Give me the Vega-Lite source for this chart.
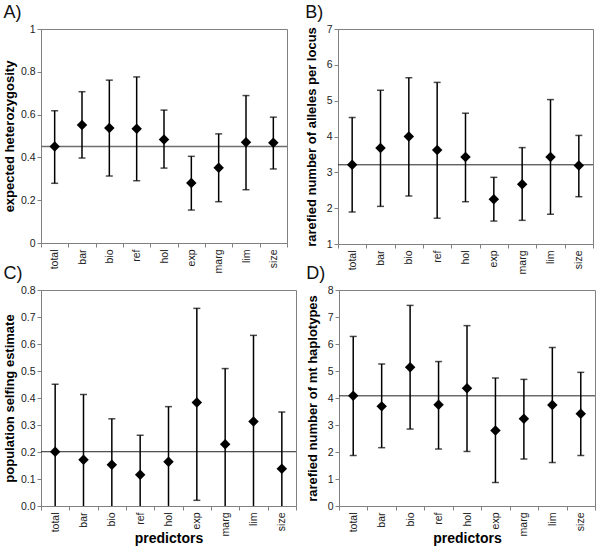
{
  "$schema": "https://vega.github.io/schema/vega-lite/v6.json",
  "padding": {"left": 2, "top": 3, "right": 2, "bottom": 0},
  "background": "white",
  "config": {
    "font": "Liberation Sans",
    "view": {"stroke": "#808080", "strokeWidth": 1},
    "axis": {
      "domainColor": "#808080", "tickColor": "#808080", "labelColor": "#222222",
      "labelFont": "Liberation Sans", "labelFontSize": 10.5, "tickSize": 4, "labelPadding": 2,
      "titleFont": "Liberation Sans", "titleFontWeight": "bold", "titleColor": "#000000", "titleFontSize": 13,
      "grid": false, "labelOverlap": false
    },
    "title": {"font": "Liberation Sans", "fontSize": 18, "fontWeight": "normal", "color": "#111111", "anchor": "start", "frame": "bounds", "offset": 2}
  },
  "datasets": {
    "A": [
      {"pred": "total", "mean": 0.451, "lo": 0.279, "hi": 0.618},
      {"pred": "bar", "mean": 0.551, "lo": 0.397, "hi": 0.707},
      {"pred": "bio", "mean": 0.537, "lo": 0.313, "hi": 0.761},
      {"pred": "ref", "mean": 0.534, "lo": 0.291, "hi": 0.776},
      {"pred": "hol", "mean": 0.484, "lo": 0.350, "hi": 0.621},
      {"pred": "exp", "mean": 0.280, "lo": 0.154, "hi": 0.405},
      {"pred": "marg", "mean": 0.352, "lo": 0.193, "hi": 0.510},
      {"pred": "lim", "mean": 0.471, "lo": 0.249, "hi": 0.689},
      {"pred": "size", "mean": 0.468, "lo": 0.346, "hi": 0.588}
    ],
    "B": [
      {"pred": "total", "mean": 3.21, "lo": 1.89, "hi": 4.53},
      {"pred": "bar", "mean": 3.68, "lo": 2.05, "hi": 5.29},
      {"pred": "bio", "mean": 4.00, "lo": 2.34, "hi": 5.64},
      {"pred": "ref", "mean": 3.62, "lo": 1.72, "hi": 5.51},
      {"pred": "hol", "mean": 3.43, "lo": 2.18, "hi": 4.65},
      {"pred": "exp", "mean": 2.25, "lo": 1.64, "hi": 2.86},
      {"pred": "marg", "mean": 2.67, "lo": 1.66, "hi": 3.69},
      {"pred": "lim", "mean": 3.43, "lo": 1.83, "hi": 5.03},
      {"pred": "size", "mean": 3.19, "lo": 2.32, "hi": 4.03}
    ],
    "C": [
      {"pred": "total", "mean": 0.201, "lo": 0, "hi": 0.451},
      {"pred": "bar", "mean": 0.171, "lo": 0, "hi": 0.413},
      {"pred": "bio", "mean": 0.153, "lo": 0, "hi": 0.323},
      {"pred": "ref", "mean": 0.116, "lo": 0, "hi": 0.262},
      {"pred": "hol", "mean": 0.164, "lo": 0, "hi": 0.368},
      {"pred": "exp", "mean": 0.383, "lo": 0.021, "hi": 0.732},
      {"pred": "marg", "mean": 0.229, "lo": 0, "hi": 0.509},
      {"pred": "lim", "mean": 0.313, "lo": 0, "hi": 0.632},
      {"pred": "size", "mean": 0.138, "lo": 0, "hi": 0.348}
    ],
    "D": [
      {"pred": "total", "mean": 4.08, "lo": 1.87, "hi": 6.28},
      {"pred": "bar", "mean": 3.69, "lo": 2.16, "hi": 5.26},
      {"pred": "bio", "mean": 5.14, "lo": 2.85, "hi": 7.43},
      {"pred": "ref", "mean": 3.75, "lo": 2.11, "hi": 5.35},
      {"pred": "hol", "mean": 4.36, "lo": 2.02, "hi": 6.68},
      {"pred": "exp", "mean": 2.80, "lo": 0.87, "hi": 4.74},
      {"pred": "marg", "mean": 3.23, "lo": 1.74, "hi": 4.69},
      {"pred": "lim", "mean": 3.74, "lo": 1.61, "hi": 5.87},
      {"pred": "size", "mean": 3.42, "lo": 1.87, "hi": 4.95}
    ]
  },
  "spacing": -11,
  "vconcat": [
    {
      "spacing": 15,
      "hconcat": [
        {
          "width": 246, "height": 214,
          "title": {"text": "A)"},
          "data": {"name": "A"},
          "layer": [
            {"transform": [{"filter": "datum.pred === 'total'"}], "mark": {"type": "rule", "color": "#6e6e6e", "strokeWidth": 1.5},
             "encoding": {"y": {"field": "mean", "type": "quantitative", "scale": {"domain": [0, 1], "nice": false},
               "axis": {"values": [0, 0.2, 0.4, 0.6, 0.8, 1], "format": "~g", "labelOverlap": false, "labelSeparation": 0, "title": "expected heterozygosity", "titlePadding": 4}}}},
            {"mark": {"type": "rule", "color": "black", "strokeWidth": 1.5},
             "encoding": {"x": {"field": "pred", "type": "nominal", "sort": null, "scale": {"paddingInner": 0, "paddingOuter": 0},
               "axis": {"labelAngle": -90, "tickBand": "extent", "title": null}},
               "y": {"field": "lo", "type": "quantitative"}, "y2": {"field": "hi"}}},
            {"mark": {"type": "tick", "color": "black", "thickness": 1.5, "size": 7},
             "encoding": {"x": {"field": "pred", "type": "nominal", "sort": null}, "y": {"field": "lo", "type": "quantitative"}}},
            {"mark": {"type": "tick", "color": "black", "thickness": 1.5, "size": 7},
             "encoding": {"x": {"field": "pred", "type": "nominal", "sort": null}, "y": {"field": "hi", "type": "quantitative"}}},
            {"mark": {"type": "point", "shape": "diamond", "filled": true, "color": "black", "size": 110, "opacity": 1},
             "encoding": {"x": {"field": "pred", "type": "nominal", "sort": null}, "y": {"field": "mean", "type": "quantitative"}}}
          ]
        },
        {
          "width": 255, "height": 215,
          "title": {"text": "B)"},
          "data": {"name": "B"},
          "layer": [
            {"transform": [{"filter": "datum.pred === 'total'"}], "mark": {"type": "rule", "color": "#222222", "strokeWidth": 1},
             "encoding": {"y": {"field": "mean", "type": "quantitative", "scale": {"domain": [1, 7], "nice": false, "zero": false},
               "axis": {"values": [1, 2, 3, 4, 5, 6, 7], "tickCount": 7, "format": "d", "labelOverlap": false, "labelSeparation": 0, "title": "rarefied number of alleles per locus", "titlePadding": 8}}}},
            {"mark": {"type": "rule", "color": "black", "strokeWidth": 1.5},
             "encoding": {"x": {"field": "pred", "type": "nominal", "sort": null, "scale": {"paddingInner": 0, "paddingOuter": 0},
               "axis": {"labelAngle": -90, "tickBand": "extent", "title": null}},
               "y": {"field": "lo", "type": "quantitative"}, "y2": {"field": "hi"}}},
            {"mark": {"type": "tick", "color": "black", "thickness": 1.5, "size": 7},
             "encoding": {"x": {"field": "pred", "type": "nominal", "sort": null}, "y": {"field": "lo", "type": "quantitative"}}},
            {"mark": {"type": "tick", "color": "black", "thickness": 1.5, "size": 7},
             "encoding": {"x": {"field": "pred", "type": "nominal", "sort": null}, "y": {"field": "hi", "type": "quantitative"}}},
            {"mark": {"type": "point", "shape": "diamond", "filled": true, "color": "black", "size": 110, "opacity": 1},
             "encoding": {"x": {"field": "pred", "type": "nominal", "sort": null}, "y": {"field": "mean", "type": "quantitative"}}}
          ]
        }
      ]
    },
    {
      "spacing": 8,
      "hconcat": [
        {
          "width": 255, "height": 216,
          "title": {"text": "C)"},
          "data": {"name": "C"},
          "layer": [
            {"transform": [{"filter": "datum.pred === 'total'"}], "mark": {"type": "rule", "color": "#222222", "strokeWidth": 1},
             "encoding": {"y": {"field": "mean", "type": "quantitative", "scale": {"domain": [0, 0.8], "nice": false},
               "axis": {"values": [0, 0.1, 0.2, 0.3, 0.4, 0.5, 0.6, 0.7, 0.8], "tickCount": 9, "format": ".1f", "labelOverlap": false, "labelSeparation": 0, "title": "population selfing estimate", "titlePadding": 4}}}},
            {"mark": {"type": "rule", "color": "black", "strokeWidth": 1.5},
             "encoding": {"x": {"field": "pred", "type": "nominal", "sort": null, "scale": {"paddingInner": 0, "paddingOuter": 0},
               "axis": {"labelAngle": -90, "tickBand": "extent", "title": "predictors", "titleFontSize": 14, "titlePadding": -4}},
               "y": {"field": "lo", "type": "quantitative"}, "y2": {"field": "hi"}}},
            {"transform": [{"filter": "datum.lo > 0"}], "mark": {"type": "tick", "color": "black", "thickness": 1.5, "size": 7},
             "encoding": {"x": {"field": "pred", "type": "nominal", "sort": null}, "y": {"field": "lo", "type": "quantitative"}}},
            {"mark": {"type": "tick", "color": "black", "thickness": 1.5, "size": 7},
             "encoding": {"x": {"field": "pred", "type": "nominal", "sort": null}, "y": {"field": "hi", "type": "quantitative"}}},
            {"mark": {"type": "point", "shape": "diamond", "filled": true, "color": "black", "size": 110, "opacity": 1},
             "encoding": {"x": {"field": "pred", "type": "nominal", "sort": null}, "y": {"field": "mean", "type": "quantitative"}}}
          ]
        },
        {
          "width": 256, "height": 216,
          "title": {"text": "D)"},
          "data": {"name": "D"},
          "layer": [
            {"transform": [{"filter": "datum.pred === 'total'"}], "mark": {"type": "rule", "color": "#222222", "strokeWidth": 1},
             "encoding": {"y": {"field": "mean", "type": "quantitative", "scale": {"domain": [0, 8], "nice": false},
               "axis": {"values": [0, 1, 2, 3, 4, 5, 6, 7, 8], "tickCount": 9, "format": "d", "labelOverlap": false, "labelSeparation": 0, "title": "rarefied number of mt haplotypes", "titlePadding": 8}}}},
            {"mark": {"type": "rule", "color": "black", "strokeWidth": 1.5},
             "encoding": {"x": {"field": "pred", "type": "nominal", "sort": null, "scale": {"paddingInner": 0, "paddingOuter": 0},
               "axis": {"labelAngle": -90, "tickBand": "extent", "title": "predictors", "titleFontSize": 14, "titlePadding": -4}},
               "y": {"field": "lo", "type": "quantitative"}, "y2": {"field": "hi"}}},
            {"mark": {"type": "tick", "color": "black", "thickness": 1.5, "size": 7},
             "encoding": {"x": {"field": "pred", "type": "nominal", "sort": null}, "y": {"field": "lo", "type": "quantitative"}}},
            {"mark": {"type": "tick", "color": "black", "thickness": 1.5, "size": 7},
             "encoding": {"x": {"field": "pred", "type": "nominal", "sort": null}, "y": {"field": "hi", "type": "quantitative"}}},
            {"mark": {"type": "point", "shape": "diamond", "filled": true, "color": "black", "size": 110, "opacity": 1},
             "encoding": {"x": {"field": "pred", "type": "nominal", "sort": null}, "y": {"field": "mean", "type": "quantitative"}}}
          ]
        }
      ]
    }
  ]
}
